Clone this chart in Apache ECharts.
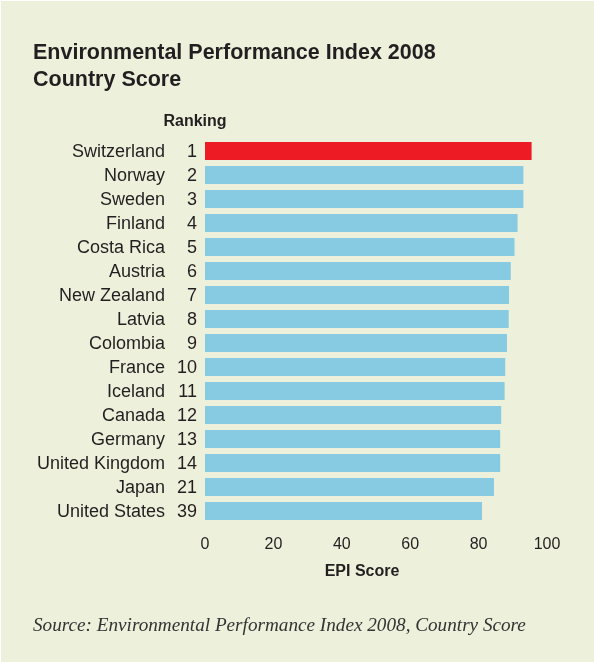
<!DOCTYPE html>
<html>
<head>
<meta charset="utf-8">
<script src="https://cdn.jsdelivr.net/npm/echarts@6/dist/echarts.min.js"></script>
<style>
html,body{margin:0;padding:0;background:#fff;}
#chart{width:594px;height:662px;}
</style>
</head>
<body>
<div id="chart"></div>
<script>
const countries = ['Switzerland','Norway','Sweden','Finland','Costa Rica','Austria','New Zealand','Latvia','Colombia','France','Iceland','Canada','Germany','United Kingdom','Japan','United States'];
const ranks = [1,2,3,4,5,6,7,8,9,10,11,12,13,14,21,39];
const scores = [95.5,93.1,93.1,91.4,90.5,89.4,88.9,88.8,88.3,87.8,87.6,86.6,86.3,86.3,84.5,81.0];
const highlightIndex = 0;

const textColor = '#231F20';
const chart = echarts.init(document.getElementById('chart'), null, {renderer:'canvas'});
chart.setOption({
  backgroundColor: '#EDF0DB',
  animation: false,
  grid: {left: 205, right: 47, top: 139, bottom: 139, containLabel: false},
  xAxis: {
    type: 'value', min: 0, max: 100, interval: 20,
    axisLine: {show: false}, axisTick: {show: false}, splitLine: {show: false},
    axisLabel: {color: textColor, fontSize: 16, fontFamily: 'Liberation Sans', margin: 14}
  },
  yAxis: {
    type: 'category', inverse: true, data: countries,
    axisLine: {show: false}, axisTick: {show: false}, splitLine: {show: false},
    axisLabel: {
      margin: 8,
      formatter: (v, i) => '{c|' + v + '}{r|' + ranks[i] + '}',
      rich: {
        c: {color: textColor, fontSize: 18, fontFamily: 'Liberation Sans', padding: [2, 0, 0, 0]},
        r: {color: textColor, fontSize: 18, fontFamily: 'Liberation Sans', width: 32, align: 'right', padding: [2, 0, 0, 0]}
      }
    }
  },
  series: [{
    type: 'bar', barWidth: 18,
    data: scores.map((s, i) => ({value: s, itemStyle: {color: i === highlightIndex ? '#ED1C24' : '#87CBE2'}})),
    silent: true
  }],
  graphic: [
    {type: 'rect', left: 0, top: 0, shape: {width: 594, height: 1}, style: {fill: '#fff'}},
    {type: 'rect', left: 0, top: 0, shape: {width: 1, height: 662}, style: {fill: '#fff'}},
    {type: 'text', x: 33, y: 53, style: {text: 'Environmental Performance Index 2008', fill: textColor, font: 'bold 21.5px "Liberation Sans"', textVerticalAlign: 'middle'}},
    {type: 'text', x: 33, y: 80, style: {text: 'Country Score', fill: textColor, font: 'bold 21.5px "Liberation Sans"', textVerticalAlign: 'middle'}},
    {type: 'text', x: 195, y: 122, style: {text: 'Ranking', fill: textColor, font: 'bold 16px "Liberation Sans"', textAlign: 'center', textVerticalAlign: 'middle'}},
    {type: 'text', x: 362, y: 572, style: {text: 'EPI Score', fill: textColor, font: 'bold 16px "Liberation Sans"', textAlign: 'center', textVerticalAlign: 'middle'}},
    {type: 'text', x: 33, y: 626, style: {text: 'Source: Environmental Performance Index 2008, Country Score', fill: '#333', font: 'italic 19.2px "Liberation Serif"', textVerticalAlign: 'middle'}}
  ]
});
</script>
</body>
</html>
